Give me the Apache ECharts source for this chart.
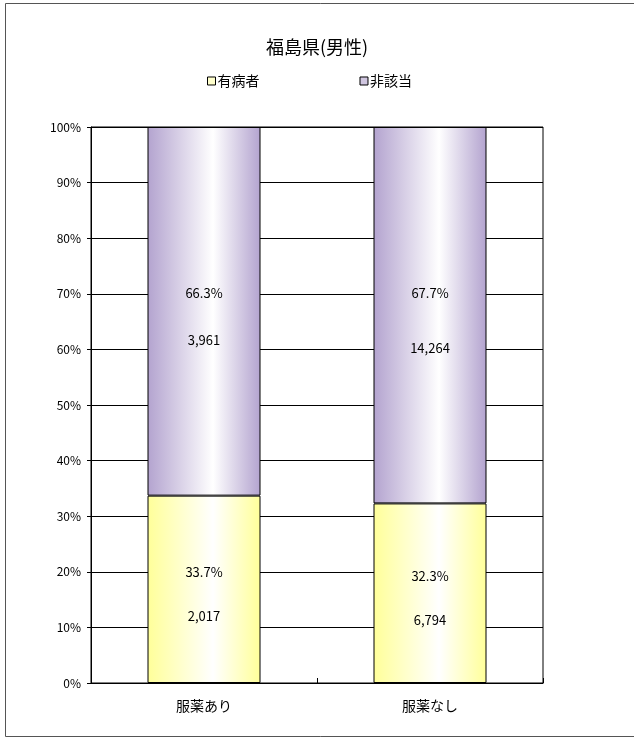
<!DOCTYPE html>
<html>
<head>
<meta charset="utf-8">
<style>
  html, body { margin: 0; padding: 0; background: #fff; }
  #chart { width: 634px; height: 738px; }
</style>
<script src="https://cdn.jsdelivr.net/npm/echarts@6/dist/echarts.min.js"></script>
</head>
<body>
<div id="chart"></div>
<script>
// 服薬の有無別 有病者・非該当の構成比（福島県・男性）
const categories = ['服薬あり', '服薬なし'];
const seriesNames = ['有病者', '非該当'];
const patientPct = [33.7, 32.3];
const patientCount = [2017, 6794];
const otherPct = [66.3, 67.7];
const otherCount = [3961, 14264];
const yTicks = [0, 10, 20, 30, 40, 50, 60, 70, 80, 90, 100];

const FONT = '"Noto Sans CJK JP", "Noto Sans", sans-serif';

function hGradient(edge) {
  return new echarts.graphic.LinearGradient(0, 0, 1, 0, [
    { offset: 0, color: edge },
    { offset: 0.58, color: '#ffffff' },
    { offset: 1, color: edge }
  ]);
}

const fmtCount = n => n.toLocaleString('en-US');

// each segment carries two lines (share and head count) with a blank line between
function segData(pcts, counts, gaps) {
  return pcts.map((v, i) => ({
    value: v,
    label: {
      show: true,
      position: 'inside',
      offset: [0, 5],
      fontFamily: FONT,
      fontSize: 13,
      color: '#000',
      lineHeight: gaps[i],
      formatter: () => v.toFixed(1) + '%\n\n' + fmtCount(counts[i])
    }
  }));
}

const chart = echarts.init(document.getElementById('chart'), null, { renderer: 'canvas' });

chart.setOption({
  animation: false,
  backgroundColor: '#fff',
  title: {
    text: '福島県(男性)',
    left: 'center',
    top: 33,
    textStyle: { fontFamily: FONT, fontSize: 18, fontWeight: 'normal', color: '#000' }
  },
  legend: {
    top: 69,
    left: 202,
    itemGap: 100,
    itemWidth: 8,
    itemHeight: 8,
    icon: 'rect',
    textStyle: { fontFamily: FONT, fontSize: 14, color: '#000', padding: [0, 0, 0, -3] },
    data: [
      { name: seriesNames[0], itemStyle: { color: '#ffffcc', borderColor: '#000', borderWidth: 1 } },
      { name: seriesNames[1], itemStyle: { color: '#d0c6e0', borderColor: '#000', borderWidth: 1 } }
    ]
  },
  grid: { left: 91, right: 91, top: 127, bottom: 55, show: true, borderColor: '#000', borderWidth: 1 },
  xAxis: {
    type: 'category',
    data: categories,
    axisLine: { lineStyle: { color: '#000' } },
    axisTick: { show: true, inside: true, length: 5, lineStyle: { color: '#000' } },
    axisLabel: { fontFamily: FONT, fontSize: 14, color: '#000', margin: 16 }
  },
  yAxis: {
    type: 'value',
    min: 0,
    max: 100,
    interval: 10,
    axisLine: { show: true, lineStyle: { color: '#000' } },
    axisTick: { show: true, length: 4, lineStyle: { color: '#000' } },
    axisLabel: {
      fontFamily: FONT, fontSize: 12, color: '#000', margin: 10,
      formatter: v => (yTicks.includes(v) ? v + '%' : '')
    },
    splitLine: { lineStyle: { color: '#000', width: 1 } }
  },
  series: [
    {
      name: seriesNames[0],
      type: 'bar',
      stack: 'total',
      barWidth: '50%',
      data: segData(patientPct, patientCount, [22, 22]),
      itemStyle: { color: hGradient('#ffff99'), borderColor: '#000', borderWidth: 1 }
    },
    {
      name: seriesNames[1],
      type: 'bar',
      stack: 'total',
      barWidth: '50%',
      data: segData(otherPct, otherCount, [23.5, 27.5]),
      itemStyle: { color: hGradient('#b3a3cf'), borderColor: '#000', borderWidth: 1 }
    }
  ],
  graphic: [
    {
      type: 'rect',
      shape: { x: 5.5, y: 3.5, width: 700, height: 733 },
      style: { fill: null, stroke: '#555', lineWidth: 1 },
      silent: true
    }
  ]
});
</script>
</body>
</html>
